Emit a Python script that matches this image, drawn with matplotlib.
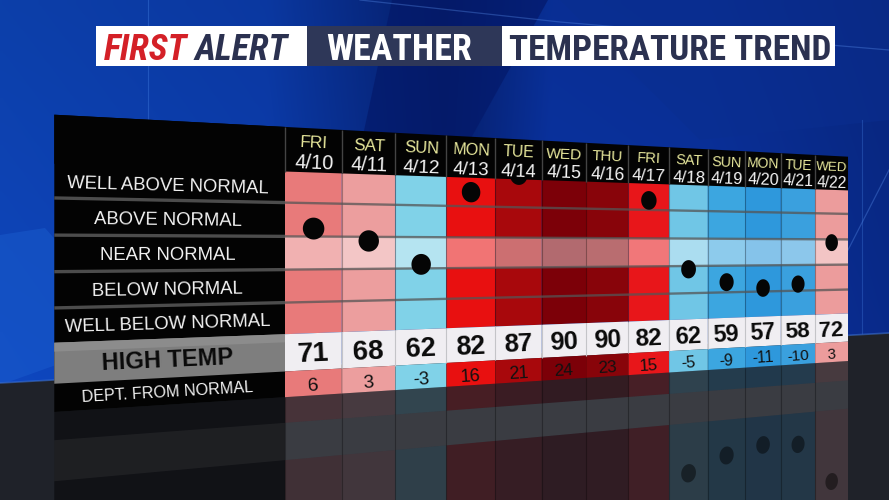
import numpy as np
import matplotlib
matplotlib.use("Agg")
import matplotlib.pyplot as plt
from matplotlib.patches import Polygon
from matplotlib import font_manager as fm

# ---------------- data ----------------
days = ["FRI", "SAT", "SUN", "MON", "TUE", "WED", "THU", "FRI", "SAT", "SUN", "MON", "TUE", "WED"]
dates = ["4/10", "4/11", "4/12", "4/13", "4/14", "4/15", "4/16", "4/17", "4/18", "4/19", "4/20", "4/21", "4/22"]
high_temps = [71, 68, 62, 82, 87, 90, 90, 82, 62, 59, 57, 58, 72]
departures = [6, 3, -3, 16, 21, 24, 23, 15, -5, -9, -11, -10, 3]
cell_colors = ["#e87a7a", "#ec9e9e", "#80d2e8", "#e81010", "#a8080c", "#7c0008", "#88040a",
               "#e8161a", "#70c6e6", "#3ca6e0", "#2e98dc", "#3aa0de", "#ec9c9c"]
row_labels = ["WELL ABOVE NORMAL", "ABOVE NORMAL", "NEAR NORMAL", "BELOW NORMAL", "WELL BELOW NORMAL"]
high_label = "HIGH TEMP"
dept_label = "DEPT. FROM NORMAL"
title_red, title_navy, title_mid, title_right = "FIRST", "ALERT", "WEATHER", "TEMPERATURE TREND"
deg_per_row = 8.0          # departure (deg F) spanned by one category row

# ---------------- fonts ----------------
names = {f.name for f in fm.fontManager.ttflist}
TFONT = "Liberation Sans" if "Liberation Sans" in names else "DejaVu Sans"
COND = next((n for n in ["Roboto Condensed", "Fira Sans Condensed", "Asap Condensed",
                         "Encode Sans Semi Condensed", "Barlow Semi Condensed", "IBM Plex Sans Condensed",
                         "Archivo Narrow", "Liberation Sans Narrow"] if n in names), TFONT)

W, H = 889, 500
fig = plt.figure(figsize=(W / 100, H / 100), dpi=100)
ax = fig.add_axes([0, 0, 1, 1])
ax.set_xlim(0, W)
ax.set_ylim(H, 0)
ax.axis("off")

# ---------------- background ----------------
xs = np.linspace(0, 1, 200)
stops = [0, 0.3, 0.42, 0.5, 0.62, 0.8, 1.0]
rs = [14, 12, 8, 6, 10, 10, 9]
gs = [70, 62, 44, 32, 52, 50, 42]
bs = [188, 178, 140, 112, 165, 160, 138]
row = np.stack([np.interp(xs, stops, rs), np.interp(xs, stops, gs), np.interp(xs, stops, bs)], -1) / 255
ys = np.linspace(0, 1, 60)[:, None, None]
img = row[None, :, :] * (0.9 + 0.15 * ys)
ax.imshow(np.clip(img, 0, 1), extent=[0, W, H, 0], aspect="auto", zorder=0, interpolation="bilinear")
ax.add_patch(Polygon([(392, 0), (548, 0), (470, 140), (362, 140)], closed=True, fc="#04196a", ec="none", alpha=0.7, zorder=0.5))
ax.add_patch(Polygon([(0, 235), (45, 228), (140, 335), (0, 385)], closed=True, fc="#1c5fd0", ec="none", alpha=0.45, zorder=0.5))
ax.add_patch(Polygon([(560, 0), (889, 0), (889, 120), (700, 140)], closed=True, fc="#0a2e90", ec="none", alpha=0.5, zorder=0.5))
ax.plot([148, 148], [0, 380], color="#4a86e8", lw=0.8, alpha=0.35, zorder=0.6)
ax.plot([360, 560, 889], [0, 22, 50], color="#5a90ee", lw=0.9, alpha=0.35, zorder=0.6)
ax.plot([848, 889], [250, 170], color="#5a90ee", lw=0.9, alpha=0.35, zorder=0.6)
ax.plot([862, 862], [120, 335], color="#4a86e8", lw=0.8, alpha=0.3, zorder=0.6)
# floor
ax.add_patch(Polygon([(0, 383), (889, 333), (889, 500), (0, 500)], closed=True, fc="#1f2229", ec="none", zorder=1))
ax.plot([0, 889], [383, 333], color="#3a6fd0", lw=1.2, alpha=0.6, zorder=1.1)

# ---------------- perspective of the board ----------------
PA, PB, PC = 65.51, 285.0, 0.02618
def bx(u):
    return (PA * u + PB) / (PC * u + 1)
def btop(x):
    return 114.7 + 0.0529 * (x - 54)
def bbot(x):
    return 412.0 - 0.0642 * (x - 54)
def P(u, v):
    x = bx(u)
    t = btop(x)
    return x, t + v * (bbot(x) - t)
def bh(u):
    x = bx(u)
    return bbot(x) - btop(x)
def rot(v):
    return -np.degrees(np.arctan(0.0529 - 0.1171 * v))

def quad(u0, u1, v0, v1, z, **kw):
    ax.add_patch(Polygon([P(u0, v0), P(u1, v0), P(u1, v1), P(u0, v1)], closed=True, zorder=z, **kw))

def bline(u0, u1, v0, v1, z, **kw):
    (x0, y0), (x1, y1) = P(u0, v0), P(u1, v1)
    ax.plot([x0, x1], [y0, y1], zorder=z, solid_capstyle="butt", **kw)

def btext(u, v, s, fs, color, weight="normal", z=10):
    x = bx(u)
    h = bbot(x) - btop(x)
    cap = 0.716 * fs * 100 / 72
    xx, yy = P(u, v + cap / 2 / h)
    ax.text(xx, yy, s, fontsize=fs, color=color, fontweight=weight, family=TFONT,
            ha="center", va="baseline", rotation=rot(v), rotation_mode="anchor", zorder=z)

def dot(uc, vc, z, **kw):
    t = np.linspace(0, 2 * np.pi, 60)
    pts = [P(uc + 0.19 * np.cos(a), vc + 0.041 * np.sin(a)) for a in t]
    ax.add_patch(Polygon(pts, closed=True, zorder=z, **kw))

N = len(days)
U_LEFT = -3.6
V_HEAD = 0.165
row_edges = [0.15, 0.28, 0.405, 0.528, 0.65, 0.767]
V_HT1 = 0.905
V_BOT = 1.0
REF_H = 266.7
nn_center = (row_edges[2] + row_edges[3]) / 2
row_step = (row_edges[5] - row_edges[1]) / 4

# ---------------- reflection on the floor ----------------
def mirror(v):
    return 2 * V_BOT - v
quad(U_LEFT, 0, mirror(V_BOT), mirror(0.3), 2, fc="#000000", ec="none", alpha=0.45)
quad(U_LEFT, 0, mirror(V_HT1), mirror(row_edges[5]), 2.1, fc="#808080", ec="none", alpha=0.12)
for i in range(N):
    quad(i, i + 1, mirror(V_BOT), mirror(V_HT1), 2, fc=cell_colors[i], ec="none", alpha=0.2)
    quad(i, i + 1, mirror(V_HT1), mirror(row_edges[5]), 2, fc="#f0eef2", ec="none", alpha=0.13)
    quad(i, i + 1, mirror(row_edges[5]), mirror(row_edges[0]), 2, fc=cell_colors[i], ec="none", alpha=0.17)
    vd = nn_center - departures[i] / deg_per_row * row_step
    dot(i + 0.5, mirror(vd), 2.2, fc="#000000", ec="none", alpha=0.45)
    bline(i, i, mirror(V_BOT), mirror(row_edges[0]), 2.3, color="#000000", lw=0.8, alpha=0.3)

# ---------------- left label panel ----------------
quad(U_LEFT, 0, 0, V_BOT, 4, fc="#030303", ec="none")
quad(U_LEFT, 0, row_edges[5], V_HT1, 4.1, fc="#7e7e7e", ec="none")
quad(U_LEFT, 0, row_edges[5], row_edges[5] + 0.03, 4.15, fc="#8c8c8c", ec="none")
for v in row_edges[1:5]:
    bline(U_LEFT, 0, v, v, 4.2, color="#4c4c4c", lw=2.4)
u_lab = -1.92
for k, lab in enumerate(row_labels):
    vc = (max(row_edges[k], V_HEAD) + row_edges[k + 1]) / 2
    btext(u_lab, vc, lab, 13.3, "#f2f2f2")
btext(u_lab, (row_edges[5] + V_HT1) / 2, high_label, 17, "#0a0a0a", weight="bold")
btext(u_lab, (V_HT1 + V_BOT) / 2, dept_label, 11.6, "#f2f2f2")

# ---------------- columns ----------------
for i in range(N):
    quad(i, i + 1, row_edges[0], row_edges[5], 4, fc=cell_colors[i], ec="none")
    quad(i, i + 1, row_edges[2], row_edges[3], 4.1, fc="#ffffff", ec="none", alpha=0.42)
    quad(i, i + 1, row_edges[5], V_HT1, 4, fc="#f0eef2", ec="none")
    quad(i, i + 1, V_HT1, V_BOT, 4, fc=cell_colors[i], ec="none")
for i in range(1, N):
    bline(i, i, row_edges[0], row_edges[5], 4.5, color="#000000", lw=0.8, alpha=0.3)
    bline(i, i, row_edges[5], V_HT1, 4.5, color="#c4c4c8", lw=0.8)
    bline(i, i, V_HT1, V_BOT, 4.5, color="#000000", lw=0.6, alpha=0.15)
for v in row_edges[1:5]:
    bline(0, N, v, v, 4.6, color="#555555", lw=1.7, alpha=0.75)

# dots
for i in range(N):
    vd = nn_center - departures[i] / deg_per_row * row_step
    dot(i + 0.5, vd, 5, fc="#050505", ec="none")

# header
quad(U_LEFT, N, 0, V_HEAD, 6, fc="#030303", ec="none")
for i in range(0, N):
    bline(i, i, 0, V_HEAD, 6.1, color="#444444", lw=1.0)

for i in range(N):
    s = bh(i + 0.5) / REF_H
    btext(i + 0.5, 0.05, days[i], 12.5 * s, "#e8e89c")
    btext(i + 0.5, 0.125, dates[i], 14.5 * s, "#f4f4f4")
    btext(i + 0.5, (row_edges[5] + V_HT1) / 2, str(high_temps[i]), 20.5 * s, "#0a0a0a", weight="bold")
    btext(i + 0.5, 0.957, str(departures[i]), 14 * s, "#111111")

# ---------------- title bar ----------------
ax.add_patch(Polygon([(96, 26), (835, 26), (835, 66), (96, 66)], closed=True, fc="#ffffff", ec="none", zorder=10))
ax.add_patch(Polygon([(307, 26), (502, 26), (502, 66), (307, 66)], closed=True, fc="#2e3758", ec="none", zorder=10.1))

fig.canvas.draw()
rend = fig.canvas.get_renderer()

def width_of(t):
    return t.get_window_extent(renderer=rend).width

ybase = 59.5
FMAX = 26
t1 = ax.text(104, ybase, title_red, fontsize=24, color="#d42027", family=COND, fontweight="bold",
             fontstyle="italic", ha="left", va="baseline", zorder=11)
t2 = ax.text(200, ybase, title_navy, fontsize=24, color="#2b3150", family=COND, fontweight="bold",
             fontstyle="italic", ha="left", va="baseline", zorder=11)
w1, w2 = width_of(t1), width_of(t2)
gap = 7
sc = (291 - 104 - gap) / (w1 + w2)
fs = min(24 * sc, FMAX)
t1.set_fontsize(fs)
t2.set_fontsize(fs)
t2.set_x(104 + w1 * fs / 24 + gap)

t3 = ax.text(399, ybase, title_mid, fontsize=24, color="#ffffff", family=COND, fontweight="bold",
             ha="center", va="baseline", zorder=11)
t3.set_fontsize(min(24 * (480 - 318) / width_of(t3), FMAX))
t4 = ax.text(670, ybase, title_right, fontsize=24, color="#2b3150", family=COND, fontweight="bold",
             ha="center", va="baseline", zorder=11)
t4.set_fontsize(min(24 * (832 - 509) / width_of(t4), FMAX))

fig.savefig("out.png", dpi=100)
